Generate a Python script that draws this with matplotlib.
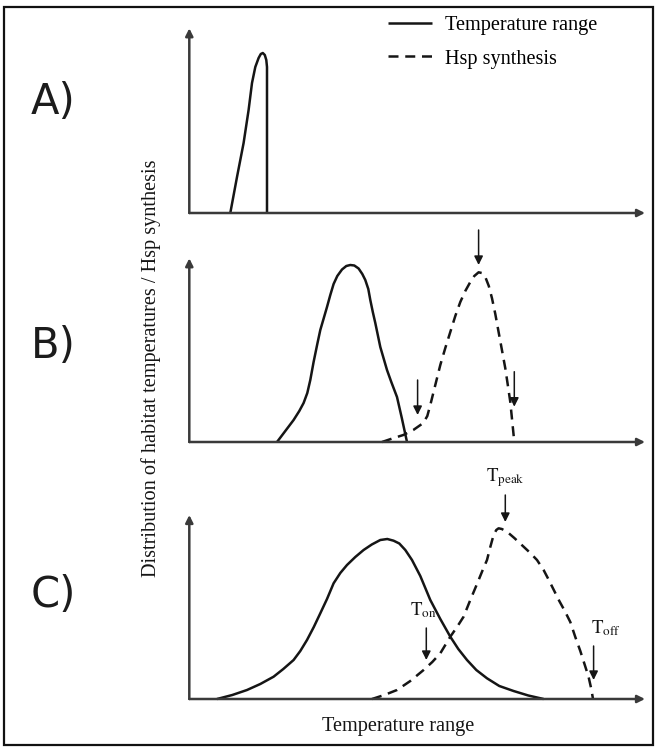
import matplotlib
matplotlib.use("Agg")
import matplotlib.pyplot as plt
from matplotlib.patches import Rectangle

plt.rcParams["mathtext.fontset"] = "stix"

W, H = 657, 748
SERIF = "Liberation Serif"
INK = "#151515"
AXIS = "#3a3a3a"

# Curve values: x = temperature (arbitrary units along the axis),
# y = relative frequency / synthesis level (arbitrary units)
a_temp_x = [41, 47.7, 54.3, 59.3, 62.7, 66, 69.3, 71.5, 73.5, 75.5, 77.0, 77.7, 77.7]
a_temp_y = [0, 36, 70, 103, 130, 146, 155, 159, 160, 158, 153, 146, 0]

b_temp_x = [87.7, 96, 104.3, 110, 114.3, 118, 121, 124.3, 128, 131, 134.5, 137.7, 141,
            144.3, 148, 152.7, 157, 161, 165, 169.3, 173, 176, 179, 181, 183.5, 186,
            191, 197.7, 202, 207.7, 212.5, 217.7]
b_temp_y = [0, 11, 22, 31, 39, 49, 62, 80, 98, 112, 124, 135, 147,
            158, 166, 172.5, 176, 177, 176.5, 173.5, 168, 162, 153, 142, 130, 119,
            95, 72, 60, 45, 24, 0]
b_hsp_x = [192.7, 203, 214, 224, 234, 238, 241, 246, 251, 256, 261, 266, 271, 276,
           281, 285, 289.3, 292.5, 296, 299.5, 302.7, 306, 309.3, 313, 316, 318.5,
           321, 323, 325]
b_hsp_y = [0, 3.5, 7, 12, 19, 26, 37, 57, 77, 94, 110, 126, 140, 151,
           160, 166, 169.7, 169, 165, 156, 143.7, 128, 110, 90, 73.7, 57,
           40, 20, 0]

c_temp_x = [27.7, 43, 57.7, 71, 84.3, 94, 104.3, 111, 117.7, 124.5, 131, 137.7, 144.3,
            151, 157.7, 166, 174.3, 182.5, 191, 198, 204.3, 210, 216, 222.7, 231, 241,
            251, 261, 269, 277.7, 287, 297.7, 310, 324.3, 339, 354.3]
c_temp_y = [0, 4, 9, 15, 22.3, 30, 39, 48, 59, 72, 85.7, 100, 115.7,
            126, 134, 142, 149, 154.5, 159, 160, 158.3, 155.5, 149, 139, 123, 99,
            80, 62.3, 50, 39, 29, 20.7, 13, 8, 3.5, 0]
c_hsp_x = [182.7, 195, 207.7, 221, 234.3, 243, 251, 261, 267.7, 274.3, 281, 287.7,
           293, 297.7, 301, 304.3, 307, 309.3, 312.5, 317.7, 325, 334.3, 341, 347.7,
           354.3, 359, 364, 370, 375.5, 381, 386, 391, 395.5, 399.3, 402, 403.7]
c_hsp_y = [0, 4, 9, 18, 29, 37, 45.7, 62.3, 72, 82.3, 99, 115,
           128, 139, 152, 164, 169, 170.7, 170, 167.3, 161, 152.3, 146, 139,
           129, 120, 110, 98, 88, 77, 62, 48, 34, 22, 10, 0]

# Threshold arrows: x position, arrow start (top) and end (tip) levels
b_arrow_x = [228.3, 289.3, 325]
b_arrow_top = [62, 212, 70.3]
b_arrow_tip = [27, 177, 35.3]

c_arrow_names = [r"$\mathrm{T_{on}}$", r"$\mathrm{T_{peak}}$", r"$\mathrm{T_{off}}$"]
c_arrow_x = [237, 316, 404.3]
c_arrow_top = [71, 204, 53]
c_arrow_tip = [39, 177, 19]
c_label_y = [89, 221, 70.7]
c_label_dx = [-3, 0, 12]

panel_letters = ["A)", "B)", "C)"]
letter_rows = [102, 346, 595]

# Panel geometry in pixels: (baseline row, top of y-arrow row)
origin_x, x_tip = 189.3, 645
panels = [(213, 28.3), (442, 258.3), (699, 515)]

fig = plt.figure(figsize=(W / 100, H / 100), dpi=100)

axes = []
for (base, top) in panels:
    ax = fig.add_axes([origin_x / W, (H - base) / H, (x_tip - origin_x) / W, (base - top) / H])
    ax.set_xlim(0, x_tip - origin_x)
    ax.set_ylim(0, base - top)
    ax.axis("off")
    ax.annotate("", xy=(1, 0), xytext=(0, 0), xycoords="axes fraction",
                arrowprops=dict(arrowstyle="-|>", lw=1.8, color=AXIS, mutation_scale=11,
                                shrinkA=0, shrinkB=0))
    ax.annotate("", xy=(0, 1), xytext=(0, 0), xycoords="axes fraction",
                arrowprops=dict(arrowstyle="-|>", lw=1.8, color=AXIS, mutation_scale=11,
                                shrinkA=0, shrinkB=0))
    axes.append(ax)

line_kw = dict(color=INK, lw=1.8, solid_joinstyle="round", solid_capstyle="butt", clip_on=False)
dash_kw = dict(color=INK, lw=1.8, linestyle=(0, (4.0, 2.7)), clip_on=False)

h_temp, = axes[0].plot(a_temp_x, a_temp_y, **line_kw)

axes[1].plot(b_temp_x, b_temp_y, **line_kw)
h_hsp, = axes[1].plot(b_hsp_x, b_hsp_y, **dash_kw)

axes[2].plot(c_temp_x, c_temp_y, **line_kw)
axes[2].plot(c_hsp_x, c_hsp_y, **dash_kw)

arrow_kw = dict(arrowstyle="-|>", lw=1.1, color=INK, mutation_scale=13, shrinkA=0, shrinkB=0)
for x, y0, y1 in zip(b_arrow_x, b_arrow_top, b_arrow_tip):
    axes[1].annotate("", xy=(x, y1), xytext=(x, y0), xycoords="data",
                     arrowprops=arrow_kw, annotation_clip=False)

for name, x, y0, y1, ly, dx in zip(c_arrow_names, c_arrow_x, c_arrow_top, c_arrow_tip,
                                   c_label_y, c_label_dx):
    axes[2].annotate("", xy=(x, y1), xytext=(x, y0), xycoords="data",
                     arrowprops=arrow_kw, annotation_clip=False)
    axes[2].text(x + dx, ly, name, ha="center", va="center", fontsize=13.5, color=INK)

# Panel letters
for letter, row in zip(panel_letters, letter_rows):
    fig.text(53 / W, 1 - row / H, letter, ha="center", va="center",
             fontsize=30, family="DejaVu Sans", color="#1c1c1c")

# Axis titles
fig.text(398 / W, 1 - 726 / H, "Temperature range", ha="center", va="center",
         fontsize=14.6, family=SERIF, color=INK)
fig.text(151 / W, 1 - 368 / H, "Distribution of habitat temperatures / Hsp synthesis",
         ha="center", va="center", rotation=90, fontsize=14.6, family=SERIF, color=INK)

# Legend
fig.legend([h_temp, h_hsp], ["Temperature range", "Hsp synthesis"],
           loc="upper left", bbox_to_anchor=(388 / W, 1 - 16 / H),
           frameon=False, borderpad=0, borderaxespad=0, handlelength=2.15,
           handletextpad=0.65, labelspacing=0.7, prop=dict(family=SERIF, size=14.6))

# Outer frame
fig.patches.append(Rectangle((4 / W, 3 / H), 649 / W, 738 / H, transform=fig.transFigure,
                             fill=False, lw=1.6, edgecolor="#111111"))

fig.savefig("out.png", dpi=100)
